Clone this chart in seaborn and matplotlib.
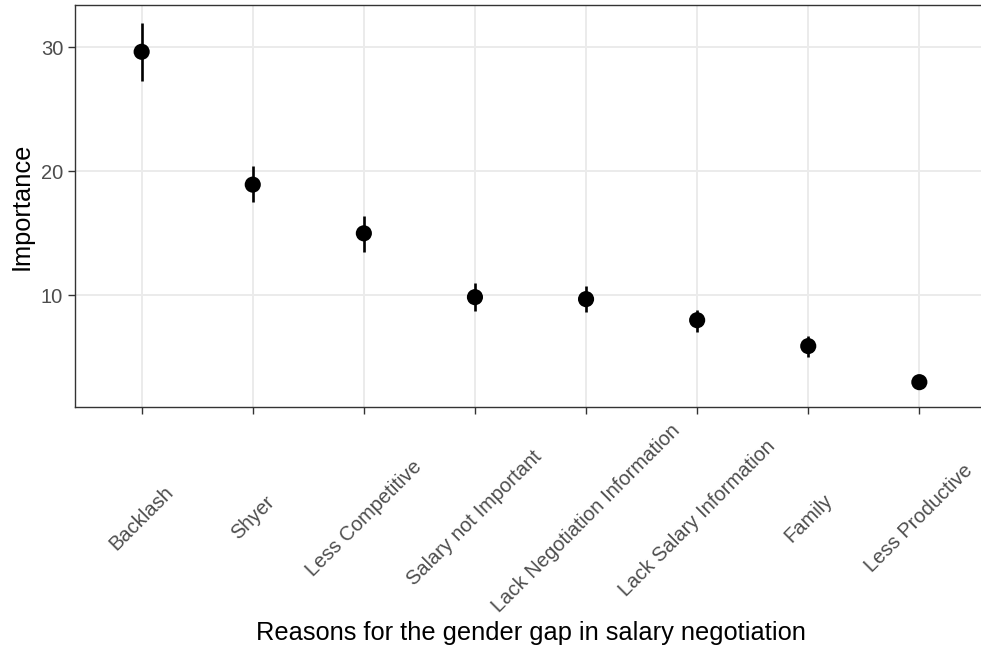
import matplotlib
matplotlib.use("Agg")
import matplotlib.pyplot as plt
import seaborn as sns
import pandas as pd

# Estimated importance of each reason, with the ends of its interval
reasons = ["Backlash", "Shyer", "Less Competitive", "Salary not Important",
           "Lack Negotiation Information", "Lack Salary Information",
           "Family", "Less Productive"]
importance = [29.64, 18.92, 14.99, 9.84, 9.68, 7.98, 5.89, 2.98]
lower = [27.30, 17.51, 13.45, 8.73, 8.67, 7.05, 5.00, 2.45]
upper = [31.94, 20.40, 16.42, 11.02, 10.70, 8.81, 6.70, 3.52]
y_ticks = [10, 20, 30]

df = pd.DataFrame({"reason": reasons, "importance": importance,
                   "lower": lower, "upper": upper})

sns.set_theme(style="white")
plt.rcParams["font.family"] = ["Liberation Sans", "DejaVu Sans"]

W, H = 981, 651
fig = plt.figure(figsize=(W / 100, H / 100), dpi=100)
ax = fig.add_axes([75 / W, 1 - 407 / H, 911 / W, 402 / H])

sns.scatterplot(data=df, x="reason", y="importance", s=135, color="black",
                edgecolor="none", linewidth=0, ax=ax, zorder=4)
ax.vlines(df["reason"], df["lower"], df["upper"], color="black", lw=1.9, zorder=3)

# panel limits with 5% padding on y and 0.6 category units on x
lo, hi = min(lower), max(upper)
pad = 0.05 * (hi - lo)
ax.set_ylim(lo - pad, hi + pad)
ax.set_xlim(-0.6, len(reasons) - 0.4)
ax.set_yticks(y_ticks)

ax.grid(True, color="#EBEBEB", lw=1.4)
ax.set_axisbelow(True)
for sp in ax.spines.values():
    sp.set_color("#333333")
    sp.set_linewidth(1.0)
ax.spines["right"].set_visible(False)

ax.tick_params(axis="both", which="major", length=5, width=1.0, color="#333333",
               labelcolor="#4D4D4D", labelsize=14.5, left=True, bottom=True)
ax.tick_params(axis="y", pad=3.5)
ax.tick_params(axis="x", pad=75)
for lab in ax.get_xticklabels():
    lab.set_rotation(45)
    lab.set_ha("center")
    lab.set_va("center")
    lab.set_rotation_mode("anchor")

ax.set_xlabel("Reasons for the gender gap in salary negotiation", fontsize=18.3,
              color="black", va="baseline")
ax.xaxis.set_label_coords(0.5, (407 - 640) / 402)
ax.set_ylabel("Importance", fontsize=18.3, color="black")
ax.yaxis.set_label_coords((34 - 75) / 911, 0.5)

fig.savefig("out.png", dpi=100)
